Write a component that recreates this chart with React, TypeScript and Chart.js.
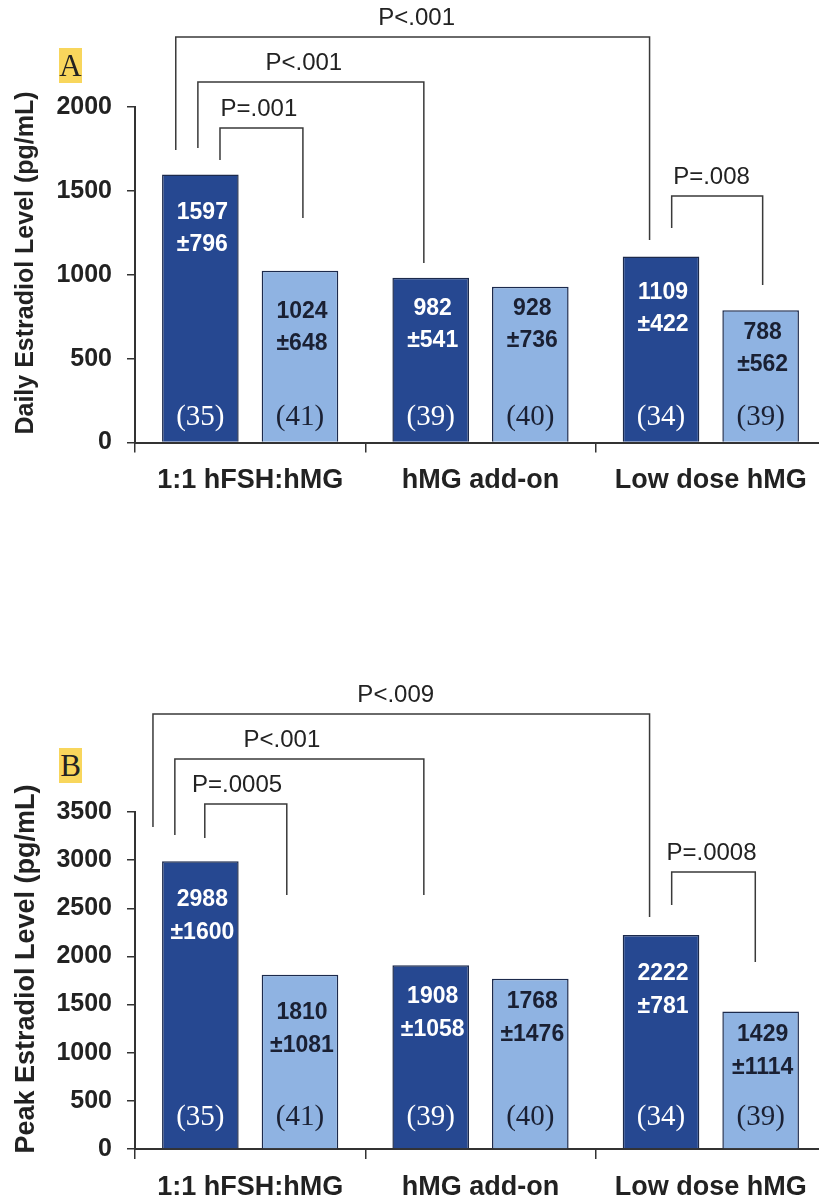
import React, { useEffect, useRef } from 'react';
import { Chart, registerables } from 'chart.js';

Chart.register(...registerables);

// ---------- data ----------
const categories = ['1:1 hFSH:hMG', 'hMG add-on', 'Low dose hMG'];
const nDark = [35, 39, 34];
const nLight = [41, 40, 39];

const dailyDark = [1597, 982, 1109];
const dailyLight = [1024, 928, 788];
const dailySdDark = [796, 541, 422];
const dailySdLight = [648, 736, 562];
const dailyTickMax = 2000;
const dailyTickStep = 500;

const peakDark = [2988, 1908, 2222];
const peakLight = [1810, 1768, 1429];
const peakSdDark = [1600, 1058, 781];
const peakSdLight = [1081, 1476, 1114];
const peakTickMax = 3500;
const peakTickStep = 500;

// where (in axis units) the mean ± SD labels sit inside each bar
const dailyLabelAtDark = [1368, 796, 891];
const dailyLabelAtLight = [778, 796, 653];
const peakLabelAtDark = [2586, 1579, 1817];
const peakLabelAtLight = [1412, 1527, 1184];

// significance brackets: x in category-index units, heights in axis units
const dailyBrackets = [
  { text: 'P<.001', x1: -0.323, x2: 1.734, top: 2417, end1: 1744, end2: 1207, tx: 0.723 },
  { text: 'P<.001', x1: -0.227, x2: 0.754, top: 2149, end1: 1755, end2: 1070, tx: 0.233 },
  { text: 'P=.001', x1: -0.131, x2: 0.229, top: 1875, end1: 1684, end2: 1338, tx: 0.038 },
  { text: 'P=.008', x1: 1.83, x2: 2.225, top: 1469, end1: 1279, end2: 939, tx: 2.003 },
];
const peakBrackets = [
  { text: 'P<.009', x1: -0.422, x2: 1.734, top: 4518, end1: 3344, end2: 2409, tx: 0.632 },
  { text: 'P<.001', x1: -0.327, x2: 0.754, top: 4050, end1: 3261, end2: 2638, tx: 0.138 },
  { text: 'P=.0005', x1: -0.197, x2: 0.159, top: 3583, end1: 3230, end2: 2638, tx: -0.057 },
  { text: 'P=.0008', x1: 1.83, x2: 2.193, top: 2877, end1: 2534, end2: 1942, tx: 2.003 },
];

const DARK = 'rgb(38,72,145)';
const LIGHT = 'rgb(143,179,226)';
const BORDER = '#1c2a4c';
const INK = '#222222';
const SANS = "'Liberation Sans', Arial, Helvetica, sans-serif";
const SERIF = "'Liberation Serif', 'Times New Roman', serif";

type Panel = {
  title: string;
  titleSize: number;
  titleCenterY: number;
  dark: number[];
  light: number[];
  sdDark: number[];
  sdLight: number[];
  labelAtDark: number[];
  labelAtLight: number[];
  brackets: typeof dailyBrackets;
  max: number;
  step: number;
  padTop: number;
  xHeight: number;
  canvasHeight: number;
  lineGap: number;
  nOffset: number;
};

function makeChart(canvas: HTMLCanvasElement, p: Panel) {
  const overlay = {
    id: 'overlay',
    afterDraw(chart: any) {
      const ctx = chart.ctx;
      const xs = chart.scales.x;
      const ys = chart.scales.y;
      const area = chart.chartArea;
      ctx.save();
      // brackets
      ctx.strokeStyle = '#3a3a3a';
      ctx.lineWidth = 1.5;
      ctx.fillStyle = INK;
      ctx.textAlign = 'center';
      ctx.textBaseline = 'middle';
      ctx.font = `400 24px ${SANS}`;
      p.brackets.forEach((b) => {
        const X1 = xs.getPixelForValue(b.x1);
        const X2 = xs.getPixelForValue(b.x2);
        const T = ys.getPixelForValue(b.top);
        ctx.beginPath();
        ctx.moveTo(X1, ys.getPixelForValue(b.end1));
        ctx.lineTo(X1, T);
        ctx.lineTo(X2, T);
        ctx.lineTo(X2, ys.getPixelForValue(b.end2));
        ctx.stroke();
        ctx.fillText(b.text, xs.getPixelForValue(b.tx), T - 19);
      });
      // bar labels
      const sets = [
        { vals: p.dark, sds: p.sdDark, at: p.labelAtDark, ns: nDark, color: '#ffffff' },
        { vals: p.light, sds: p.sdLight, at: p.labelAtLight, ns: nLight, color: '#1a2033' },
      ];
      sets.forEach((s, d) => {
        const meta = chart.getDatasetMeta(d);
        meta.data.forEach((bar: any, i: number) => {
          const x = bar.x;
          const y = ys.getPixelForValue(s.at[i]);
          ctx.fillStyle = s.color;
          ctx.font = `700 23px ${SANS}`;
          ctx.fillText(String(s.vals[i]), x + 2, y);
          ctx.fillText('±' + s.sds[i], x + 2, y + p.lineGap);
          ctx.font = `400 29px ${SERIF}`;
          ctx.fillText(`(${s.ns[i]})`, x, area.bottom - p.nOffset);
        });
      });
      // y-axis title
      ctx.fillStyle = INK;
      ctx.font = `700 ${p.titleSize}px ${SANS}`;
      ctx.translate(26.5, p.titleCenterY);
      ctx.rotate(-Math.PI / 2);
      ctx.fillText(p.title, 0, 0);
      ctx.restore();
    },
  };

  return new Chart(canvas, {
    type: 'bar',
    data: {
      labels: categories,
      datasets: [
        {
          data: p.dark,
          backgroundColor: DARK,
          borderColor: BORDER,
          borderWidth: 1.5,
          categoryPercentage: 0.865,
          barPercentage: 0.769,
        },
        {
          data: p.light,
          backgroundColor: LIGHT,
          borderColor: BORDER,
          borderWidth: 1.5,
          categoryPercentage: 0.865,
          barPercentage: 0.769,
        },
      ],
    },
    options: {
      responsive: false,
      animation: false,
      devicePixelRatio: 1,
      layout: { padding: { top: p.padTop, right: 4, left: 0, bottom: 0 } },
      plugins: { legend: { display: false }, tooltip: { enabled: false }, title: { display: false } },
      scales: {
        x: {
          offset: true,
          afterFit: (s: any) => {
            s.height = p.xHeight;
          },
          grid: {
            offset: true,
            drawOnChartArea: false,
            drawTicks: true,
            tickLength: 10,
            color: '#333',
            lineWidth: 1.5,
          },
          border: { display: true, color: '#333', width: 2 },
          ticks: {
            color: INK,
            padding: 12,
            maxRotation: 0,
            autoSkip: false,
            font: { family: SANS, size: 27, weight: 'bold' },
          },
        },
        y: {
          min: 0,
          max: p.max,
          afterFit: (s: any) => {
            s.width = 135;
          },
          grid: {
            drawOnChartArea: false,
            drawTicks: true,
            tickLength: 8,
            color: '#333',
            lineWidth: 1.5,
          },
          border: { display: true, color: '#333', width: 2 },
          ticks: {
            stepSize: p.step,
            color: INK,
            padding: 15,
            font: { family: SANS, size: 25, weight: 'bold' },
            callback: (v: any) => String(v),
          },
          title: { display: false },
        },
      },
    },
    plugins: [overlay],
  } as any);
}

function ChartPanel({ panel, top }: { panel: Panel; top: number }) {
  const ref = useRef<HTMLCanvasElement | null>(null);
  useEffect(() => {
    if (!ref.current) return;
    const chart = makeChart(ref.current, panel);
    return () => chart.destroy();
  }, [panel]);
  return (
    <canvas
      ref={ref}
      width={830}
      height={panel.canvasHeight}
      style={{ position: 'absolute', left: 0, top, width: 830, height: panel.canvasHeight }}
    />
  );
}

const panelA: Panel = {
  title: 'Daily Estradiol Level (pg/mL)',
  titleSize: 25,
  titleCenterY: 263,
  dark: dailyDark,
  light: dailyLight,
  sdDark: dailySdDark,
  sdLight: dailySdLight,
  labelAtDark: dailyLabelAtDark,
  labelAtLight: dailyLabelAtLight,
  brackets: dailyBrackets,
  max: dailyTickMax,
  step: dailyTickStep,
  padTop: 107,
  xHeight: 77.5,
  canvasHeight: 520,
  lineGap: 32,
  nOffset: 25.5,
};

const panelB: Panel = {
  title: 'Peak Estradiol Level (pg/mL)',
  titleSize: 27,
  titleCenterY: 349,
  dark: peakDark,
  light: peakLight,
  sdDark: peakSdDark,
  sdLight: peakSdLight,
  labelAtDark: peakLabelAtDark,
  labelAtLight: peakLabelAtLight,
  brackets: peakBrackets,
  max: peakTickMax,
  step: peakTickStep,
  padTop: 192,
  xHeight: 61,
  canvasHeight: 590,
  lineGap: 33,
  nOffset: 32,
};

const tagStyle: React.CSSProperties = {
  position: 'absolute',
  left: 59,
  width: 23,
  height: 35,
  lineHeight: '35px',
  textAlign: 'center',
  background: '#f8d65c',
  color: '#222',
  fontFamily: SERIF,
  fontSize: 31,
};

export default function App() {
  return (
    <div
      style={{
        position: 'absolute',
        left: 0,
        top: 0,
        width: 819,
        height: 1202,
        overflow: 'hidden',
        background: '#fff',
      }}
    >
      <ChartPanel panel={panelA} top={0} />
      <ChartPanel panel={panelB} top={620} />
      <div style={{ ...tagStyle, top: 48 }}>A</div>
      <div style={{ ...tagStyle, top: 748 }}>B</div>
    </div>
  );
}
